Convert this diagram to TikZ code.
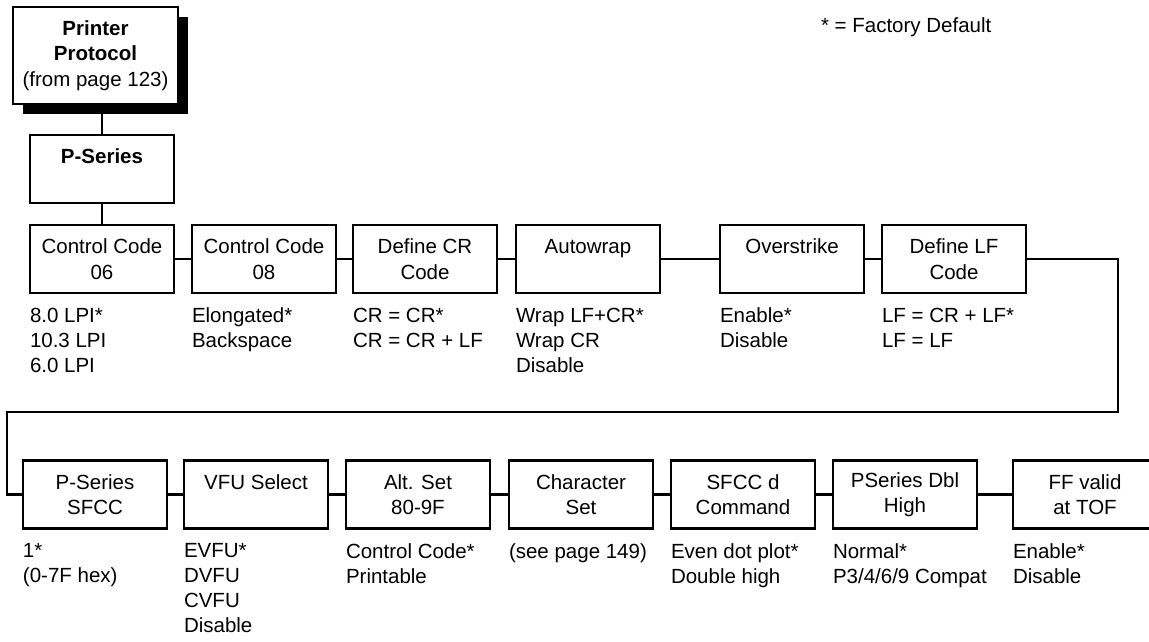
\documentclass[tikz,border=0pt]{standalone}
\usepackage{fontspec}
\setmainfont{Liberation Sans}
\usetikzlibrary{positioning,shadows}
\tikzset{
  psmenu/.style={
    draw=black,
    fill=white,
    line width=2.2pt,
    minimum width=144pt,
    minimum height=68pt,
    align=center,
    inner sep=2pt,
    outer sep=0pt,
    font=\fontsize{20.5pt}{25.5pt}\selectfont
  },
  psopts/.style={
    align=left,
    inner sep=0pt,
    outer sep=0pt,
    font=\fontsize{20.5pt}{25pt}\selectfont
  },
  pslink/.style={line width=2.2pt, draw=black}
}

\begin{document}
\begin{tikzpicture}[x=1pt, y=1pt, node distance=18pt]
  \useasboundingbox (0,0) rectangle (1149,-642);
  \node[psopts, anchor=base west] (fdef) at (821,-33) {* = Factory Default};
  % entry box and first row
  \node[psmenu, minimum width=165pt, minimum height=97pt,
        drop shadow={shadow xshift=10pt, shadow yshift=-10pt, fill=black, opacity=1}]
    (proto) at (95.5,-55.5) {\textbf{Printer}\\\textbf{Protocol}\\(from page 123)};
  \node[psmenu] (pser) at (102,-169) {\textbf{P-Series}\\~};
  \node[psmenu, below=22pt of pser] (cc06) {Control Code\\06};
  \node[psmenu, right=18pt of cc06] (cc08) {Control Code\\08};
  \node[psmenu, right=17pt of cc08] (defcr) {Define CR\\Code};
  \node[psmenu, right=19pt of defcr] (awrap) {Autowrap\\~};
  \node[psmenu, right=60pt of awrap] (ovstk) {Overstrike\\~};
  \node[psmenu, right=18pt of ovstk] (deflf) {Define LF\\Code};
  \node[psopts, below right=15pt and 0pt of cc06.south west] (cc06o) {8.0 LPI*\\10.3 LPI\\6.0 LPI};
  \node[psopts, below right=15pt and 0pt of cc08.south west] (cc08o) {Elongated*\\Backspace};
  \node[psopts, below right=15pt and 0pt of defcr.south west] (defcro) {CR = CR*\\CR = CR + LF};
  \node[psopts, below right=15pt and 0pt of awrap.south west] (awrapo) {Wrap LF+CR*\\Wrap CR\\Disable};
  \node[psopts, below right=15pt and 0pt of ovstk.south west] (ovstko) {Enable*\\Disable};
  \node[psopts, below right=15pt and 0pt of deflf.south west] (deflfo) {LF = CR + LF*\\LF = LF};
  % second row
  \node[psmenu] (sfcc) at (95,-494.5) {P-Series\\SFCC};
  \node[psmenu, right=17pt of sfcc] (vfu) {VFU Select\\~};
  \node[psmenu, right=18pt of vfu] (altset) {Alt. Set\\80-9F};
  \node[psmenu, right=19pt of altset] (chset) {Character\\Set};
  \node[psmenu, right=18pt of chset] (sfccd) {SFCC d\\Command};
  \node[psmenu, right=18pt of sfccd] (dblhi) {PSeries Dbl\\High};
  \node[psmenu, right=36pt of dblhi] (fftof) {FF valid\\at TOF};
  \node[psopts, below right=15pt and 0pt of sfcc.south west] (sfcco) {1*\\(0-7F hex)};
  \node[psopts, below right=15pt and 0pt of vfu.south west] (vfuo) {EVFU*\\DVFU\\CVFU\\Disable};
  \node[psopts, below right=15pt and 0pt of altset.south west] (altseto) {Control Code*\\Printable};
  \node[psopts, below right=15pt and 0pt of chset.south west] (chseto) {(see page 149)};
  \node[psopts, below right=15pt and 0pt of sfccd.south west] (sfccdo) {Even dot plot*\\Double high};
  \node[psopts, below right=15pt and 0pt of dblhi.south west] (dblhio) {Normal*\\P3/4/6/9 Compat};
  \node[psopts, below right=15pt and 0pt of fftof.south west] (fftofo) {Enable*\\Disable};
  \coordinate (wrapR) at (1118,-412);
  \coordinate (wrapL) at (7,-412);
  % links
  \draw[pslink] (pser.north) -- (pser.north |- proto.south);
  \draw[pslink] (pser) -- (cc06);
  \draw[pslink] (cc06) -- (cc08);
  \draw[pslink] (cc08) -- (defcr);
  \draw[pslink] (defcr) -- (awrap);
  \draw[pslink] (awrap) -- (ovstk);
  \draw[pslink] (ovstk) -- (deflf);
  \draw[pslink] (deflf.east) -| (wrapR) -- (wrapL) |- (sfcc.west);
  \draw[pslink] (sfcc) -- (vfu);
  \draw[pslink] (vfu) -- (altset);
  \draw[pslink] (altset) -- (chset);
  \draw[pslink] (chset) -- (sfccd);
  \draw[pslink] (sfccd) -- (dblhi);
  \draw[pslink] (dblhi) -- (fftof);
\end{tikzpicture}
\end{document}
